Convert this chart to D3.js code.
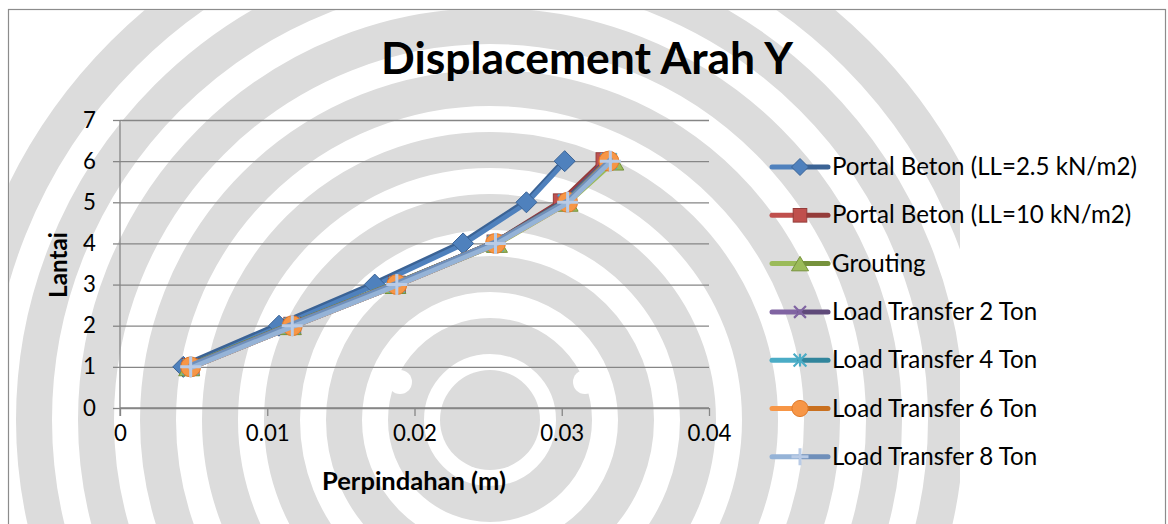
<!DOCTYPE html>
<html>
<head>
<meta charset="utf-8">
<script src="https://cdn.jsdelivr.net/npm/d3@7"></script>
<style>
  html, body { margin: 0; padding: 0; background: #fff; }
  svg { display: block; }
  text { font-family: Lato, "Open Sans", "Liberation Sans", sans-serif; fill: #000; }
</style>
</head>
<body>
<svg id="chart" width="1168" height="524"></svg>
<script>
// Floors (storey number) and lateral displacement in metres per model
const floors = [1, 2, 3, 4, 5, 6];
const seriesNames = [
  "Portal Beton (LL=2.5 kN/m2)",
  "Portal Beton (LL=10 kN/m2)",
  "Grouting",
  "Load Transfer 2 Ton",
  "Load Transfer 4 Ton",
  "Load Transfer 6 Ton",
  "Load Transfer 8 Ton"
];
const portalBeton25 = [0.0043, 0.0108, 0.0173, 0.0233, 0.0276, 0.0302];
const portalBeton10 = [0.0048, 0.0117, 0.0188, 0.0255, 0.0300, 0.0329];
const grouting      = [0.0047, 0.0116, 0.0187, 0.0256, 0.0304, 0.0335];
const loadTransfer2 = [0.0048, 0.0117, 0.0188, 0.0255, 0.0302, 0.0331];
const loadTransfer4 = [0.0048, 0.0117, 0.0188, 0.0255, 0.0303, 0.0332];
const loadTransfer6 = [0.0048, 0.0117, 0.0188, 0.0255, 0.0304, 0.0332];
const loadTransfer8 = [0.0048, 0.0117, 0.0188, 0.0255, 0.0304, 0.0333];
const xTicks = [0, 0.01, 0.02, 0.03, 0.04];
const yTicks = [0, 1, 2, 3, 4, 5, 6, 7];

const seriesValues = [portalBeton25, portalBeton10, grouting, loadTransfer2, loadTransfer4, loadTransfer6, loadTransfer8];
const palette = [
  { line: "#4f81bd", dark: "#3b6395", marker: "diamond" },
  { line: "#c0504d", dark: "#943c3a", marker: "square" },
  { line: "#9bbb59", dark: "#76923c", marker: "triangle" },
  { line: "#8064a2", dark: "#5f4a7a", marker: "x" },
  { line: "#4bacc6", dark: "#31859c", marker: "star" },
  { line: "#f79646", dark: "#c9701f", marker: "circle" },
  { line: "#95b3d7", dark: "#6f8fba", marker: "plus" }
];
const series = seriesNames.map((name, i) => ({
  name, style: palette[i],
  points: floors.map((f, j) => ({ floor: f, disp: seriesValues[i][j] }))
}));

const svg = d3.select("#chart");
const W = 1168, H = 524;

// Scale a text element's font so that it spans the given width
function fitWidth(sel, width) {
  const node = sel.node();
  const fs = parseFloat(sel.attr("font-size"));
  const w = node.getComputedTextLength();
  const size = fs * width / w;
  sel.attr("font-size", size);
  return size;
}

// Outer chart frame
svg.append("rect").attr("x", 8.5).attr("y", 9.5).attr("width", 1157).attr("height", 530)
  .attr("fill", "#fff").attr("stroke", "#8c8c8c").attr("stroke-width", 1.2);

// Background emblem (light grey concentric bands)
const clip = svg.append("clipPath").attr("id", "frame");
clip.append("rect").attr("x", 9).attr("y", 10).attr("width", 951).attr("height", H);
const mark = svg.append("g").attr("clip-path", "url(#frame)");
const cx = 490, cy = 420;
d3.range(8).forEach(k => {
  mark.append("circle").attr("cx", cx).attr("cy", cy).attr("r", 84 + k * 62)
    .attr("fill", "none").attr("stroke", "#dcdcdc").attr("stroke-width", 36);
});
mark.append("circle").attr("cx", cx).attr("cy", cy).attr("r", 50).attr("fill", "#dcdcdc");
[[400, 382], [585, 382]].forEach(([x, y]) =>
  mark.append("circle").attr("cx", x).attr("cy", y).attr("r", 12).attr("fill", "#fff"));

// Scales
const x = d3.scaleLinear().domain([0, 0.04]).range([120, 709]);
const y = d3.scaleLinear().domain([0, 7]).range([408, 120]);

// Horizontal gridlines
svg.append("g").attr("class", "grid")
  .attr("transform", "translate(120,0)")
  .call(d3.axisLeft(y).tickValues(yTicks).tickSize(-589).tickFormat(""))
  .call(g => g.select(".domain").remove())
  .call(g => g.selectAll("line").attr("stroke", "#868686").attr("stroke-width", 1.3));

// X axis
const xAxis = svg.append("g").attr("transform", "translate(0,408)")
  .call(d3.axisBottom(x).tickValues(xTicks).tickSize(8).tickPadding(9)
    .tickFormat(d => d === 0 ? "0" : d3.format(".2f")(d)));
xAxis.select(".domain").attr("d", "M120,0H709").attr("stroke", "#868686").attr("stroke-width", 1.3);
xAxis.selectAll("line").attr("stroke", "#868686").attr("stroke-width", 1.3);
xAxis.selectAll("text").attr("font-size", 20).attr("font-family", "Lato, sans-serif").attr("fill", "#111");
const tickSize = fitWidth(xAxis.selectAll("text").filter(d => d === 0.01), 44);
xAxis.selectAll("text").attr("font-size", tickSize);

// Y axis
const yAxis = svg.append("g").attr("transform", "translate(120,0)")
  .call(d3.axisLeft(y).tickValues(yTicks).tickSize(7).tickPadding(17).tickFormat(d3.format("d")));
yAxis.select(".domain").attr("d", "M0,120V416").attr("stroke", "#868686").attr("stroke-width", 1.3);
yAxis.selectAll("line").attr("stroke", "#868686").attr("stroke-width", 1.3);
yAxis.selectAll("text").attr("font-size", tickSize).attr("font-family", "Lato, sans-serif").attr("fill", "#111");

// Axis titles and chart title
const xTitle = svg.append("text").attr("x", 414).attr("y", 490).attr("text-anchor", "middle")
  .attr("font-weight", "bold").attr("font-size", 20).text("Perpindahan (m)");
fitWidth(xTitle, 184);
const yTitle = svg.append("text").attr("transform", "translate(67,265) rotate(-90)").attr("text-anchor", "middle")
  .attr("font-weight", "bold").attr("font-size", 20).text("Lantai");
fitWidth(yTitle, 66);
const title = svg.append("text").attr("x", 587).attr("y", 74).attr("text-anchor", "middle")
  .attr("font-weight", "bold").attr("font-size", 40).attr("fill", "#111").text("Displacement Arah Y");
fitWidth(title, 412);

// Marker shapes
function drawMarker(g, type, c, size) {
  const s = size;
  if (type === "diamond") {
    g.append("path").attr("d", `M0,${-s}L${s},0L0,${s}L${-s},0Z`).attr("fill", c.line).attr("stroke", c.dark).attr("stroke-width", 1);
  } else if (type === "square") {
    g.append("rect").attr("x", -s * 0.8).attr("y", -s * 0.8).attr("width", s * 1.6).attr("height", s * 1.6)
      .attr("fill", c.line).attr("stroke", c.dark).attr("stroke-width", 1);
  } else if (type === "triangle") {
    g.append("path").attr("d", `M0,${-s * 0.85}L${s},${s * 0.85}L${-s},${s * 0.85}Z`).attr("fill", c.line).attr("stroke", c.dark).attr("stroke-width", 1);
  } else if (type === "x") {
    const r = s * 0.7;
    g.append("path").attr("d", `M${-r},${-r}L${r},${r}M${r},${-r}L${-r},${r}`).attr("stroke", c.line).attr("stroke-width", 2.2);
  } else if (type === "star") {
    const r = s * 0.75;
    g.append("path").attr("d", `M${-r},${-r}L${r},${r}M${r},${-r}L${-r},${r}M0,${-r}V${r}`).attr("stroke", c.line).attr("stroke-width", 2.2);
  } else if (type === "circle") {
    g.append("circle").attr("r", s * 0.95).attr("fill", c.line).attr("stroke", "#e07a2a").attr("stroke-width", 1);
  } else if (type === "plus") {
    g.append("path").attr("d", `M${-s},0H${s}M0,${-s}V${s}`).attr("stroke", "#b9cbe6").attr("stroke-width", 3);
  }
}

// Series lines and markers
const line = d3.line().x(d => x(d.disp)).y(d => y(d.floor));
series.forEach(s => {
  const g = svg.append("g");
  g.append("path").datum(s.points).attr("d", line).attr("transform", "translate(0,-1.8)")
    .attr("fill", "none").attr("stroke", s.style.dark).attr("stroke-width", 4.5)
    .attr("stroke-linejoin", "round").attr("stroke-linecap", "round");
  g.append("path").datum(s.points).attr("d", line).attr("transform", "translate(0,1)")
    .attr("fill", "none").attr("stroke", s.style.line).attr("stroke-width", 4.8)
    .attr("stroke-linejoin", "round").attr("stroke-linecap", "round");
  s.points.forEach(p => {
    const m = g.append("g").attr("transform", `translate(${x(p.disp)},${y(p.floor)})`);
    drawMarker(m, s.style.marker, s.style, 10.5);
  });
});

// Legend
const legend = svg.append("g");
let legendSize = 22;
series.forEach((s, i) => {
  const ly = 167 + i * 48.3;
  const g = legend.append("g").attr("transform", `translate(0,${ly})`);
  g.append("line").attr("x1", 772).attr("x2", 800).attr("y1", 0).attr("y2", 0)
    .attr("stroke", s.style.line).attr("stroke-width", 5).attr("stroke-linecap", "round");
  g.append("line").attr("x1", 800).attr("x2", 828).attr("y1", 0).attr("y2", 0)
    .attr("stroke", s.style.dark).attr("stroke-width", 5).attr("stroke-linecap", "round");
  const m = g.append("g").attr("transform", "translate(800,0)");
  drawMarker(m, s.style.marker, s.style, 8.5);
  const t = g.append("text").attr("x", 832).attr("y", 8).attr("font-size", legendSize).attr("fill", "#111").text(s.name);
  if (i === 0) legendSize = fitWidth(t, 305);
  else t.attr("font-size", legendSize);
});
</script>
</body>
</html>
